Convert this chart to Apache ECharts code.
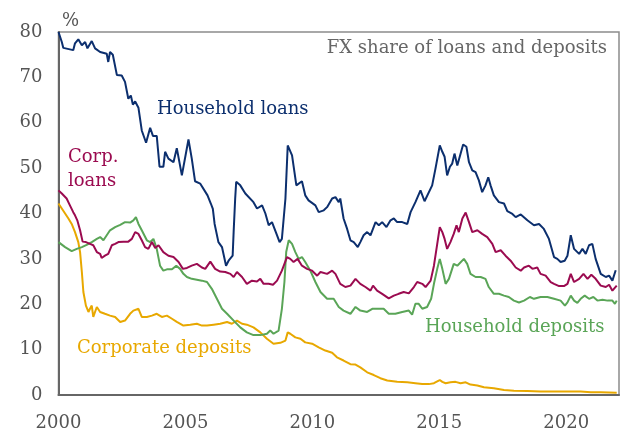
<!DOCTYPE html>
<html>
<head>
<meta charset="utf-8">
<script src="https://cdn.jsdelivr.net/npm/echarts@6/dist/echarts.min.js"></script>
<style>html,body{margin:0;padding:0;background:#fff;}#c{width:621px;height:432px;}</style>
</head>
<body>
<div id="c"></div>
<script>
// [year fraction, % share]
var householdLoans = [[2000.00,80],[2000.13,77.8],[2000.19,76.5],[2000.58,76],[2000.65,77.5],[2000.78,78.4],[2000.92,77.1],[2001.05,77.8],[2001.14,76.4],[2001.31,78],[2001.44,76.4],[2001.64,75.6],[2001.90,75.2],[2001.96,73.4],[2002.03,75.6],[2002.14,75],[2002.30,70.5],[2002.49,70.4],[2002.62,69],[2002.75,65.3],[2002.85,66],[2002.93,64],[2003.02,64.7],[2003.15,63.3],[2003.28,58.3],[2003.45,55.6],[2003.61,58.9],[2003.72,57.1],[2003.87,57.1],[2003.98,50.3],[2004.13,50.3],[2004.20,53.6],[2004.33,52.1],[2004.53,51.3],[2004.66,54.4],[2004.86,48.4],[2005.12,56.3],[2005.25,52.1],[2005.38,47.1],[2005.58,46.6],[2005.87,44],[2006.00,42.2],[2006.08,41],[2006.15,37.7],[2006.30,33.7],[2006.44,32.6],[2006.60,28.5],[2006.70,29.6],[2006.86,30.7],[2006.90,36],[2006.96,43.3],[2007.00,47],[2007.16,46.2],[2007.36,44.4],[2007.68,42.5],[2007.82,41.1],[2008.02,41.8],[2008.15,40],[2008.28,37.4],[2008.41,38.1],[2008.61,35.2],[2008.71,33.7],[2008.80,34.4],[2008.94,43.3],[2009.03,55],[2009.20,52.8],[2009.37,46.2],[2009.59,47.1],[2009.72,44],[2009.85,42.9],[2010.12,41.8],[2010.25,40.3],[2010.45,40.7],[2010.58,41.4],[2010.78,43.3],[2010.91,43.6],[2011.04,42.5],[2011.10,43.3],[2011.23,38.9],[2011.37,36.6],[2011.50,34.1],[2011.63,33.7],[2011.79,32.6],[2011.89,33.7],[2012.02,35.2],[2012.16,35.9],[2012.29,35.2],[2012.49,38.1],[2012.62,37.4],[2012.75,38.1],[2012.92,37],[2013.08,38.5],[2013.21,38.9],[2013.34,38.1],[2013.54,38.1],[2013.74,37.7],[2013.87,40.3],[2014.06,42.5],[2014.26,45.1],[2014.42,42.7],[2014.72,46.2],[2014.85,49.9],[2015.02,55],[2015.12,53.6],[2015.21,52.5],[2015.31,48.4],[2015.42,50.3],[2015.51,51],[2015.60,53.2],[2015.71,50.6],[2015.94,55.2],[2016.07,54.7],[2016.17,51.3],[2016.30,49.5],[2016.43,49.1],[2016.56,47.3],[2016.69,44.7],[2016.82,46.2],[2016.93,48],[2017.02,46.2],[2017.15,44],[2017.35,42.5],[2017.55,42.2],[2017.68,40.5],[2017.88,39.9],[2018.01,39.2],[2018.21,39.8],[2018.47,38.5],[2018.73,37.4],[2018.93,37.7],[2019.12,36.6],[2019.32,34.4],[2019.52,30.4],[2019.65,30],[2019.78,29.3],[2019.94,29.6],[2020.05,30.7],[2020.18,35.2],[2020.31,32.2],[2020.51,31.1],[2020.64,32.2],[2020.77,31.1],[2020.90,33],[2021.03,33.3],[2021.16,30],[2021.36,26.7],[2021.56,26],[2021.69,26.3],[2021.82,25.2],[2021.95,27.5]];

var corpLoans = [[2000.00,45.1],[2000.13,44.4],[2000.32,43.3],[2000.45,41.8],[2000.58,40.3],[2000.65,39.6],[2000.74,38.5],[2000.85,36.3],[2000.95,33.8],[2001.08,33.7],[2001.24,33.3],[2001.37,33],[2001.51,31.5],[2001.64,31.1],[2001.70,30.2],[2001.83,30.7],[2001.96,31.1],[2002.10,33],[2002.23,33.3],[2002.36,33.7],[2002.56,33.8],[2002.75,33.8],[2002.89,34.4],[2003.02,35.9],[2003.15,35.5],[2003.28,34.1],[2003.41,32.6],[2003.54,32.2],[2003.68,33.7],[2003.81,32.4],[2003.94,33],[2004.13,31.5],[2004.33,30.7],[2004.53,30.4],[2004.73,29.3],[2004.90,27.8],[2005.06,28],[2005.25,28.5],[2005.45,28.9],[2005.65,28.1],[2005.78,27.8],[2005.98,29.4],[2006.17,27.8],[2006.37,27.2],[2006.57,27.1],[2006.77,26.7],[2006.90,26],[2007.03,27.1],[2007.23,26],[2007.42,24.5],[2007.62,25.2],[2007.82,25],[2007.95,25.6],[2008.08,24.5],[2008.28,24.5],[2008.45,24.3],[2008.61,25.2],[2008.80,27.4],[2009.00,30.4],[2009.13,30],[2009.26,29.3],[2009.42,30],[2009.59,28.5],[2009.79,27.8],[2009.99,27.4],[2010.19,26.3],[2010.32,27.1],[2010.58,26.7],[2010.78,27.4],[2010.91,26.7],[2011.10,24.5],[2011.30,23.8],[2011.50,24.1],[2011.70,25.6],[2011.89,24.5],[2012.09,23.8],[2012.29,23],[2012.39,24.1],[2012.55,23],[2012.75,22.3],[2013.01,21.3],[2013.21,21.9],[2013.40,22.3],[2013.60,22.7],[2013.80,22.4],[2014.00,23.8],[2014.13,24.9],[2014.33,24.5],[2014.46,23.8],[2014.66,25.2],[2014.79,28.5],[2014.92,33.3],[2015.02,37],[2015.12,35.9],[2015.21,34.4],[2015.31,32.2],[2015.44,33.7],[2015.57,35.5],[2015.68,37.4],[2015.77,35.9],[2015.91,38.9],[2016.04,40.2],[2016.17,38.1],[2016.30,35.9],[2016.50,36.3],[2016.69,35.5],[2016.89,34.8],[2017.09,33.3],[2017.22,31.5],[2017.42,31.9],[2017.61,30.7],[2017.81,29.6],[2018.01,28.1],[2018.21,27.4],[2018.34,28.1],[2018.53,28.5],[2018.67,27.8],[2018.86,28.1],[2018.99,26.7],[2019.19,26.3],[2019.39,24.9],[2019.52,24.5],[2019.72,24],[2019.91,24],[2020.05,24.5],[2020.18,26.7],[2020.31,24.9],[2020.51,25.6],[2020.68,26.7],[2020.84,25.6],[2020.99,26.5],[2021.16,25.6],[2021.36,24.1],[2021.56,23.8],[2021.69,24.3],[2021.82,23],[2021.99,24.1]];

var householdDeposits = [[2000.00,33.7],[2000.26,32.6],[2000.52,31.7],[2000.72,32.2],[2000.92,32.6],[2001.11,33.1],[2001.31,33.7],[2001.51,34.4],[2001.64,34.8],[2001.77,34.1],[2001.90,35.2],[2002.03,36.3],[2002.23,37],[2002.43,37.5],[2002.62,38.1],[2002.82,38],[2002.95,38.5],[2003.05,39.2],[2003.15,37.7],[2003.28,36.3],[2003.48,34.1],[2003.61,33.7],[2003.74,34.4],[2003.87,32.2],[2004.00,28.5],[2004.13,27.4],[2004.27,27.7],[2004.47,27.7],[2004.64,28.5],[2004.79,27.8],[2004.92,26.7],[2005.06,26],[2005.25,25.6],[2005.45,25.4],[2005.65,25.2],[2005.85,24.9],[2006.04,23.4],[2006.24,21.2],[2006.44,19],[2006.64,17.9],[2006.90,16.4],[2007.16,14.9],[2007.42,13.8],[2007.68,13.2],[2007.95,13.2],[2008.21,13.5],[2008.34,14.2],[2008.47,13.5],[2008.67,14.2],[2008.80,19],[2008.90,24.9],[2008.97,31.5],[2009.07,34.1],[2009.20,33.3],[2009.33,31.5],[2009.46,30],[2009.59,30.4],[2009.72,29.3],[2009.92,27.4],[2010.12,24.9],[2010.32,22.7],[2010.58,21.2],[2010.84,21.2],[2011.04,19.4],[2011.23,18.6],[2011.50,17.9],[2011.70,19.4],[2011.89,18.6],[2012.16,18.3],[2012.36,19],[2012.62,19],[2012.81,19],[2013.01,17.9],[2013.27,17.9],[2013.54,18.3],[2013.80,18.6],[2013.93,17.7],[2014.06,20.1],[2014.19,20.1],[2014.33,19],[2014.52,19.4],[2014.68,21.2],[2014.79,24.5],[2014.92,27.8],[2015.02,30],[2015.12,27.8],[2015.25,24.5],[2015.38,25.6],[2015.57,28.9],[2015.71,28.5],[2015.97,30],[2016.10,28.9],[2016.23,26.7],[2016.43,26],[2016.63,26],[2016.82,25.6],[2016.95,23.8],[2017.15,22.3],[2017.35,22.3],[2017.55,21.9],[2017.74,21.6],[2017.94,20.8],[2018.14,20.4],[2018.34,20.8],[2018.57,21.6],[2018.73,21.2],[2018.99,21.6],[2019.26,21.6],[2019.52,21.2],[2019.78,20.8],[2019.95,19.7],[2020.05,20.4],[2020.18,21.9],[2020.31,20.8],[2020.44,20.3],[2020.57,21.2],[2020.73,21.9],[2020.90,21.2],[2021.07,21.6],[2021.23,20.8],[2021.43,21],[2021.63,20.8],[2021.82,20.8],[2021.92,20.1],[2021.99,20.8]];

var corpDeposits = [[2000.00,42.2],[2000.13,41.1],[2000.26,40],[2000.39,38.9],[2000.52,37.7],[2000.65,35.9],[2000.78,33.7],[2000.85,31.5],[2000.92,27.1],[2000.98,22.7],[2001.08,19.7],[2001.18,18.3],[2001.24,19],[2001.31,19.7],[2001.37,17.2],[2001.51,19.4],[2001.64,18.3],[2001.83,17.9],[2002.03,17.5],[2002.23,17.2],[2002.43,16.1],[2002.62,16.4],[2002.82,17.9],[2002.95,18.6],[2003.15,19],[2003.28,17.2],[2003.48,17.2],[2003.68,17.5],[2003.87,17.9],[2004.07,17.2],[2004.27,17.5],[2004.47,16.8],[2004.66,16.1],[2004.92,15.3],[2005.19,15.5],[2005.45,15.7],[2005.65,15.3],[2005.85,15.3],[2006.11,15.5],[2006.37,15.7],[2006.64,16.1],[2006.83,15.7],[2007.03,16.4],[2007.23,15.7],[2007.42,15.5],[2007.68,14.9],[2007.95,13.8],[2008.21,12.4],[2008.47,11.3],[2008.74,11.5],[2008.94,12],[2009.03,13.8],[2009.13,13.5],[2009.33,12.7],[2009.53,12.4],[2009.72,11.6],[2009.99,11.3],[2010.25,10.5],[2010.51,9.8],[2010.78,9.3],[2010.97,8.3],[2011.23,7.6],[2011.50,6.8],[2011.70,6.7],[2011.89,6.1],[2012.16,5.0],[2012.42,4.4],[2012.68,3.7],[2012.95,3.2],[2013.34,2.9],[2013.74,2.8],[2014.06,2.6],[2014.33,2.4],[2014.59,2.4],[2014.79,2.6],[2014.92,3.0],[2015.02,3.3],[2015.12,2.9],[2015.25,2.6],[2015.44,2.8],[2015.64,2.9],[2015.84,2.6],[2016.04,2.8],[2016.23,2.3],[2016.50,2.1],[2016.76,1.7],[2017.15,1.5],[2017.55,1.1],[2017.94,0.95],[2018.47,0.9],[2018.99,0.75],[2019.52,0.75],[2020.05,0.75],[2020.57,0.75],[2020.97,0.6],[2021.36,0.6],[2021.99,0.5]];

var seriesNames = ['Household loans', 'Corp. loans', 'Household deposits', 'Corporate deposits'];
var yTicks = [0, 10, 20, 30, 40, 50, 60, 70, 80];
var xTicks = [2000, 2005, 2010, 2015, 2020];
var chartTitle = 'FX share of loans and deposits';
var unitLabel = '%';

var serif = '"DejaVu Serif", "Liberation Serif", serif';
var colors = ['#0c2f6e', '#9b0b50', '#5aa557', '#e8a800'];
var chart = echarts.init(document.getElementById('c'), null, {renderer: 'canvas'});
function mk(name, data, color) {
  return {name: name, type: 'line', data: data, showSymbol: false, symbol: 'none',
    lineStyle: {color: color, width: 2}, itemStyle: {color: color}, animation: false, z: 3};
}
chart.setOption({
  animation: false,
  backgroundColor: '#fff',
  grid: {left: 58.5, right: 2, top: 32, bottom: 37, show: true, borderColor: '#8c8c8c', borderWidth: 1.5},
  xAxis: {type: 'value', min: 2000, max: 2022.08, interval: 5,
    axisLine: {show: true, lineStyle: {color: '#666', width: 2}},
    axisTick: {show: false}, splitLine: {show: false},
    axisLabel: {color: '#555', fontFamily: serif, fontSize: 18, margin: 19,
      formatter: function (v) { return xTicks.indexOf(v) >= 0 ? String(v) : ''; },
      showMaxLabel: false}},
  yAxis: {type: 'value', min: 0, max: 80, interval: 10,
    axisLine: {show: true, lineStyle: {color: '#666', width: 2}},
    axisTick: {show: false}, splitLine: {show: false},
    axisLabel: {color: '#555', fontFamily: serif, fontSize: 18, margin: 16,
      formatter: function (v) { return yTicks.indexOf(v) >= 0 ? String(v) : ''; }}},
  series: [
    mk(seriesNames[3], corpDeposits, colors[3]),
    mk(seriesNames[2], householdDeposits, colors[2]),
    mk(seriesNames[1], corpLoans, colors[1]),
    mk(seriesNames[0], householdLoans, colors[0])
  ],
  graphic: [
    {type: 'text', left: 62, top: 12, style: {text: unitLabel, fill: '#555', font: '18px ' + serif}},
    {type: 'text', right: 14, top: 39, style: {text: chartTitle, fill: '#666', font: '18px ' + serif}},
    {type: 'text', left: 157, top: 100, style: {text: 'Household loans', fill: colors[0], font: '18px ' + serif}},
    {type: 'text', left: 68, top: 145, style: {text: 'Corp.\nloans', fill: colors[1], font: '18px ' + serif, lineHeight: 24}},
    {type: 'text', left: 425, top: 318, style: {text: 'Household deposits', fill: colors[2], font: '18px ' + serif}},
    {type: 'text', left: 77, top: 339, style: {text: 'Corporate deposits', fill: colors[3], font: '18px ' + serif}}
  ]
});
</script>
</body>
</html>
